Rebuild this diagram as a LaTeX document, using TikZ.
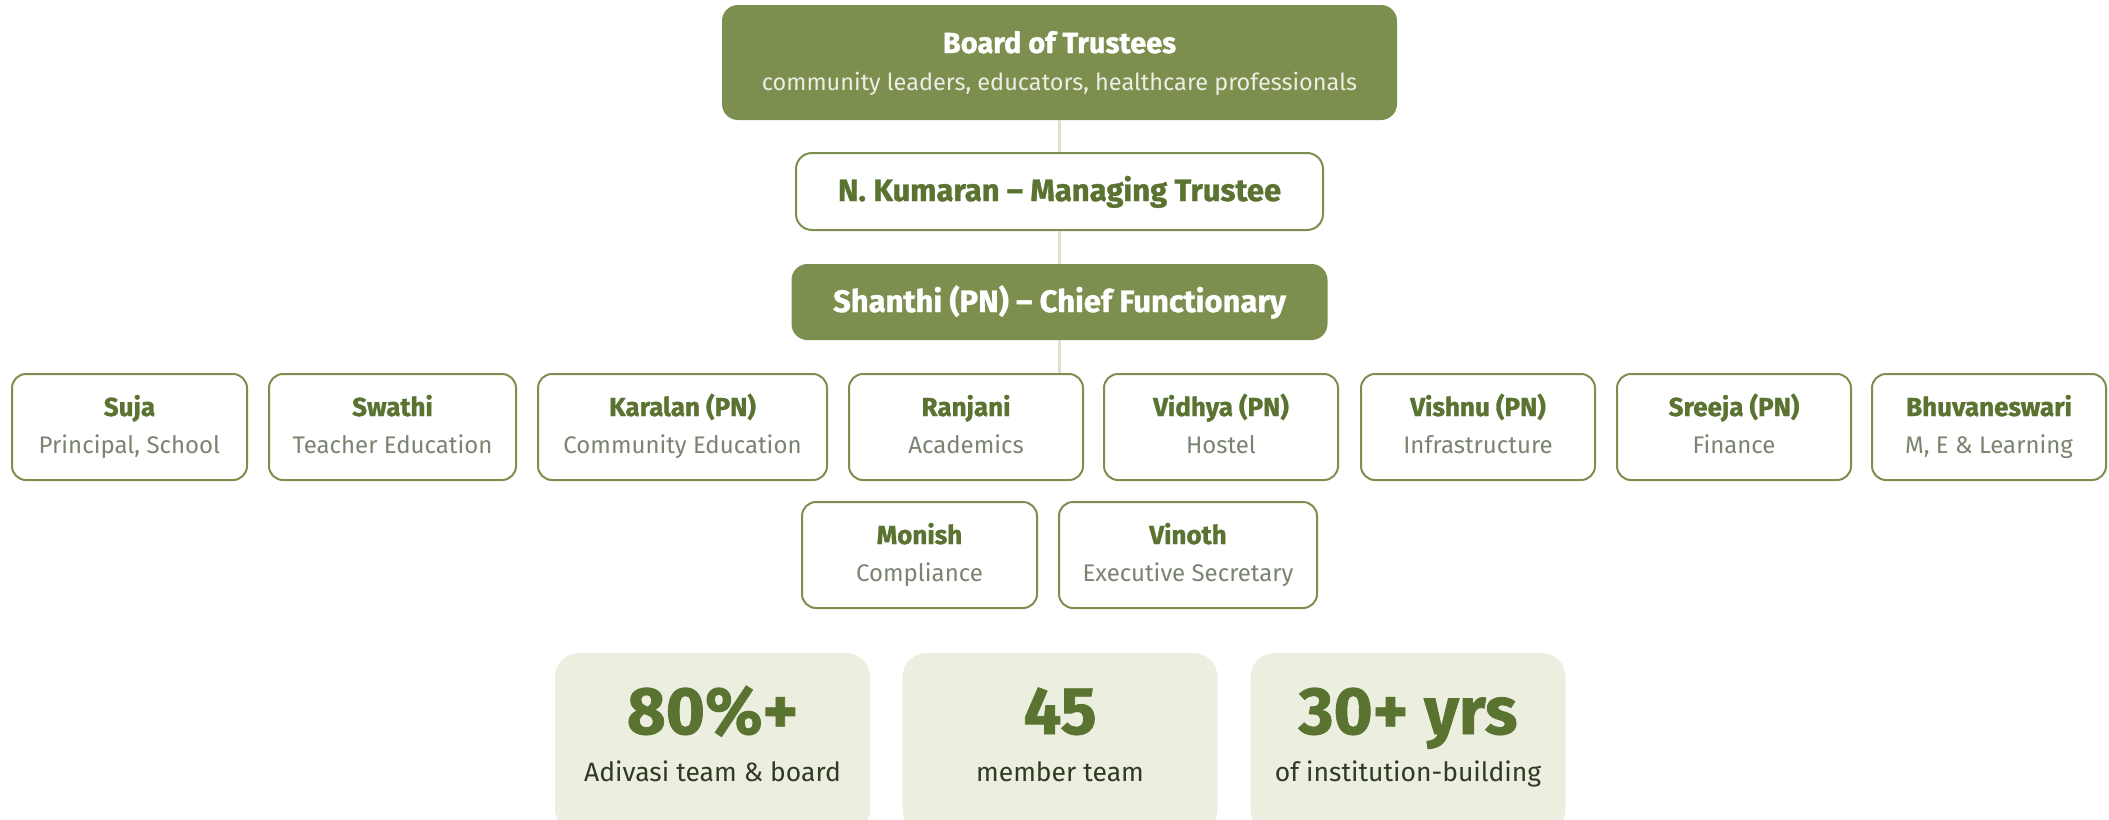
\documentclass[tikz,border=0pt]{standalone}
\usepackage{fontspec}
\setmainfont{Fira Sans}
\newfontfamily\heavyfont{Fira Sans}[FakeBold=1.2, Ligatures=TeX]
\definecolor{gfill}{HTML}{7D8F4E}
\definecolor{gname}{HTML}{5A7330}
\definecolor{grole}{HTML}{7B8470}
\definecolor{gline}{HTML}{E0E0D2}
\definecolor{sfill}{HTML}{ECEEDF}
\definecolor{slabel}{HTML}{2F3B24}
\tikzset{
  rbox/.style={draw=gfill, line width=2pt, fill=white, rounded corners=14pt, minimum height=106pt, inner sep=0pt},
  gbox/.style={fill=gfill, draw=none, rounded corners=16pt, inner sep=0pt},
  wbox/.style={draw=gfill, line width=2pt, fill=white, rounded corners=16pt, inner sep=0pt},
  sbox/.style={fill=sfill, draw=none, rounded corners=24pt, minimum width=315pt, minimum height=180pt, inner sep=0pt},
  nm/.style={anchor=base, inner sep=0pt, text=gname, font=\heavyfont\bfseries\fontsize{26}{30}\selectfont},
  rl/.style={anchor=base, inner sep=0pt, text=grole, font=\fontsize{24}{28}\selectfont},
  hd/.style={anchor=base, inner sep=0pt, font=\heavyfont\bfseries\fontsize{31}{35}\selectfont},
  conn/.style={draw=gline, line width=3pt},
  bignum/.style={anchor=base, inner sep=0pt, text=gname, font=\heavyfont\bfseries\fontsize{67}{72}\selectfont},
  slab/.style={anchor=base, inner sep=0pt, text=slabel, font=\fontsize{26.5}{30}\selectfont},
}
\begin{document}
\begin{tikzpicture}[x=1pt, y=-1pt]
\useasboundingbox (0,0) rectangle (2109,819);
% top chain
\node[gbox, minimum width=675pt, minimum height=115pt] (board) at (1059.5,62.5) {};
\node[wbox, minimum width=527pt, minimum height=77pt] (kum) at (1059.5,191.5) {};
\node[gbox, minimum width=536pt, minimum height=76pt] (shan) at (1059.5,302) {};
% row 1 boxes
\node[rbox, minimum width=235pt] (suja) at (129.5,427) {};
\node[rbox, minimum width=247pt] (swathi) at (392.5,427) {};
\node[rbox, minimum width=289pt] (karalan) at (682.5,427) {};
\node[rbox, minimum width=234pt] (ranjani) at (966,427) {};
\node[rbox, minimum width=234pt] (vidhya) at (1221,427) {};
\node[rbox, minimum width=234pt] (vishnu) at (1478,427) {};
\node[rbox, minimum width=234pt] (sreeja) at (1734,427) {};
\node[rbox, minimum width=234pt] (bhuv) at (1989,427) {};
% row 2 boxes
\node[rbox, minimum width=235pt] (monish) at (919.5,555) {};
\node[rbox, minimum width=258pt] (vinoth) at (1188,555) {};
% connectors
\path[conn] (board.south) -- (kum.north);
\path[conn] (kum.south) -- (shan.north);
\path[conn] (shan.south) -- (shan.south |- ranjani.north);
% texts top
\node[hd, text=white, font=\heavyfont\bfseries\fontsize{29}{33}\selectfont] (board-t) at (1059.5,53) {Board of Trustees};
\node[anchor=base, inner sep=0pt, text=white!85!gfill, font=\fontsize{23.5}{27}\selectfont] (board-s) at (1059.5,90) {community leaders, educators, healthcare professionals};
\node[hd, text=gname] (kum-t) at (1059.5,201) {N. Kumaran – Managing Trustee};
\node[hd, text=white] (shan-t) at (1059.5,312) {Shanthi (PN) – Chief Functionary};
% row 1 texts
\node[nm] (suja-n) at (129.5,416) {Suja};
\node[rl] (suja-r) at (129.5,453) {Principal, School};
\node[nm] (swathi-n) at (392.5,416) {Swathi};
\node[rl] (swathi-r) at (392.5,453) {Teacher Education};
\node[nm] (karalan-n) at (682.5,416) {Karalan (PN)};
\node[rl] (karalan-r) at (682.5,453) {Community Education};
\node[nm] (ranjani-n) at (966,416) {Ranjani};
\node[rl] (ranjani-r) at (966,453) {Academics};
\node[nm] (vidhya-n) at (1221,416) {Vidhya (PN)};
\node[rl] (vidhya-r) at (1221,453) {Hostel};
\node[nm] (vishnu-n) at (1478,416) {Vishnu (PN)};
\node[rl] (vishnu-r) at (1478,453) {Infrastructure};
\node[nm] (sreeja-n) at (1734,416) {Sreeja (PN)};
\node[rl] (sreeja-r) at (1734,453) {Finance};
\node[nm] (bhuv-n) at (1989,416) {Bhuvaneswari};
\node[rl] (bhuv-r) at (1989,453) {M, E \& Learning};
% row 2 texts
\node[nm] (monish-n) at (919.5,544) {Monish};
\node[rl] (monish-r) at (919.5,581) {Compliance};
\node[nm] (vinoth-n) at (1188,544) {Vinoth};
\node[rl] (vinoth-r) at (1188,581) {Executive Secretary};
% stats
\begin{scope}
\clip (0,0) rectangle (2109,819);
\node[sbox] (st1) at (712.5,743) {};
\node[sbox] (st2) at (1060,743) {};
\node[sbox] (st3) at (1408,743) {};
\end{scope}
\node[bignum] (st1-n) at (712.5,734) {80\%+};
\node[slab] (st1-l) at (712.5,781) {Adivasi team \& board};
\node[bignum] (st2-n) at (1060,734) {45};
\node[slab] (st2-l) at (1060,781) {member team};
\node[bignum] (st3-n) at (1408,734) {30+ yrs};
\node[slab] (st3-l) at (1408,781) {of institution-building};
\end{tikzpicture}
\end{document}
